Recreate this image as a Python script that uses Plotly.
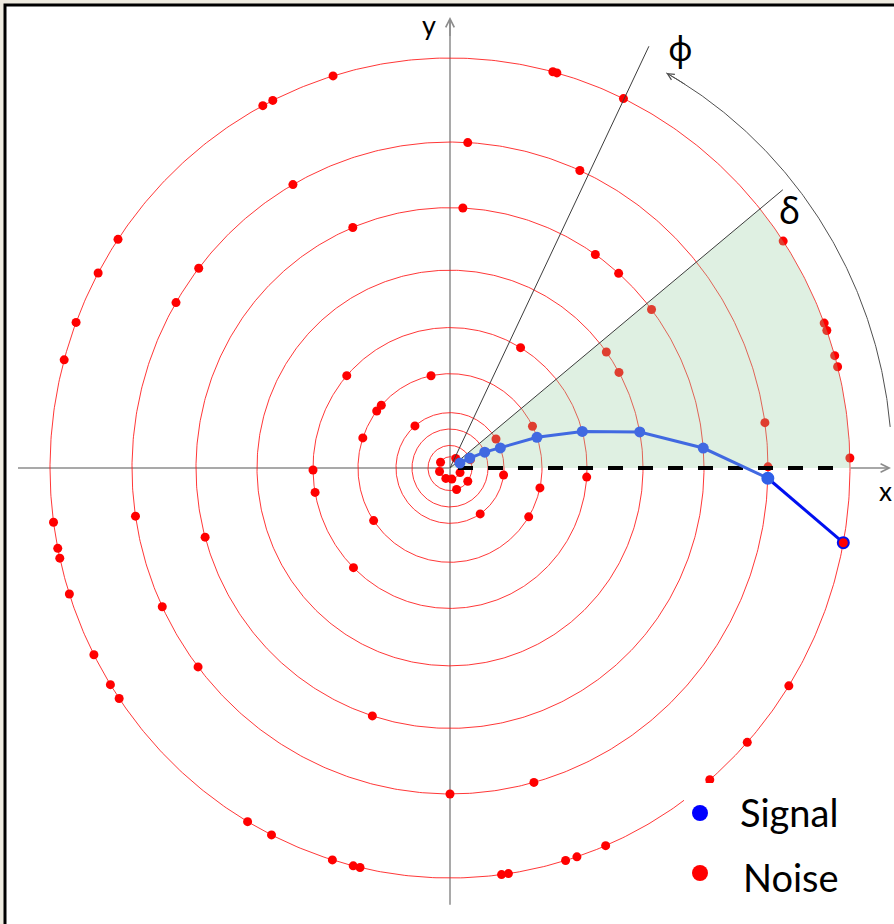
import numpy as np
import plotly.graph_objects as go

# ---------------- data ----------------
ring_radii = [11, 22, 38, 54, 92, 137, 193, 254, 318, 400]
# signal: one point per ring (inner -> outer), phase angle in degrees
signal_angles = [26, 26, 24, 21.3, 19, 15.1, 10.5, 4.4, -1.8, -10.5]

# noise points: phase angles (degrees) on each ring
noise_r11 = [58.4, 149.5, 198, 247.7, 279.7, 336]
noise_r22 = [21.8, 323.9, 287.4]
noise_r54 = [130.5, 31.6, 352.7, 304.0]
noise_r92 = [101.9, 138.3, 142.8, 161.4, 213.9, 328.8, 347.8, 26.3]
noise_r137 = [59.0, 138.9, 180.8, 190.0, 225.2, 356.3]
noise_r193 = [35.9, 28.9]
noise_r254 = [87.1, 112.5, 55.1, 48.4, 37.5, 195.4, 252.2]
noise_r318 = [86.8, 65.9, 119.6, 142.2, 149.5, 188.5, 205.2, 217.6, 270, 285.3, 8.0, 0.2]
noise_r400 = [107.0, 116.3, 117.9, 75.1, 74.5, 64.3, 146.1, 151.6, 159.2, 164.7,
              187.6, 191.3, 192.7, 197.9, 207.1, 211.9, 214.2, 239.6, 243.5, 252.9,
              256.0, 257.0, 277.4, 278.4, 286.8, 288.5, 292.9, 310.5, 318.0, 327.9,
              349.4, 1.4, 14.3, 15.9, 19.6, 20.7, 33.6]
noise_sets = [(11, noise_r11), (22, noise_r22), (54, noise_r54), (92, noise_r92),
              (137, noise_r137), (193, noise_r193), (254, noise_r254),
              (318, noise_r318), (400, noise_r400)]

phi_deg = 64.2
delta_deg = 39.2
phi_ray_len = 457
delta_ray_len = 429.5
arc_radius = 442
arc_from_deg, arc_to_deg = 5.2, 60.7

# ---------------- figure ----------------
W, H = 894, 924
OX, OY = 450, 468          # origin pixel
SY = 1.025                 # vertical stretch of the original drawing
xr = [-OX, W - OX]
yr = [-(H - OY) / SY, OY / SY]

def px(xp):
    return xp / W

def py(yp):
    return 1 - yp / H

def pol(r, deg):
    t = np.radians(deg)
    return r * np.cos(t), r * np.sin(t)

fig = go.Figure()

# axes (lines)
fig.add_trace(go.Scatter(x=[-432, 0], y=[0, 0], mode="lines",
                         line=dict(color="#8c8c8c", width=1.5), hoverinfo="skip"))
fig.add_trace(go.Scatter(x=[0, 0], y=[-426, 436], mode="lines",
                         line=dict(color="#8c8c8c", width=1.5), hoverinfo="skip"))

# rings
t = np.linspace(0, 360, 721)
cx, cy = [], []
for r in ring_radii:
    x, y = pol(r, t)
    cx += list(x) + [None]
    cy += list(y) + [None]
fig.add_trace(go.Scatter(x=cx, y=cy, mode="lines",
                         line=dict(color="rgba(255,20,20,0.85)", width=1),
                         hoverinfo="skip"))

# noise
nx, ny = [], []
for r, angs in noise_sets:
    x, y = pol(r, np.array(angs))
    nx += list(x)
    ny += list(y)
fig.add_trace(go.Scatter(x=nx, y=ny, mode="markers",
                         marker=dict(color="#ff0000", size=9), name="Noise"))

# shaded sector (0 .. delta)
sa = np.linspace(0, delta_deg, 100)
sx, sy = pol(ring_radii[-1], sa)
fig.add_trace(go.Scatter(x=[0] + list(sx) + [0], y=[0] + list(sy) + [0],
                         mode="lines", fill="toself",
                         fillcolor="rgba(150,205,160,0.30)",
                         line=dict(width=0), hoverinfo="skip"))

# rays phi, delta
fx, fy = pol(phi_ray_len, phi_deg)
dx_, dy_ = pol(delta_ray_len, delta_deg)
fig.add_trace(go.Scatter(x=[0, fx, None, 0, dx_], y=[0, fy, None, 0, dy_], mode="lines",
                         line=dict(color="#3c3c3c", width=1), hoverinfo="skip"))

# arc with arrow
aa = np.linspace(arc_from_deg, arc_to_deg, 200)
ax_, ay_ = pol(arc_radius, aa)
fig.add_trace(go.Scatter(x=ax_, y=ay_, mode="lines",
                         line=dict(color="#505050", width=1), hoverinfo="skip"))

# dashed reference line on the x axis
fig.add_trace(go.Scatter(x=[8, 393], y=[0, 0], mode="lines",
                         line=dict(color="black", width=4, dash="15px,15px"),
                         hoverinfo="skip"))

# signal
gx, gy = pol(np.array(ring_radii), np.array(signal_angles))
fig.add_trace(go.Scatter(x=gx[:9], y=gy[:9], mode="lines+markers",
                         line=dict(color="#4169e1", width=3),
                         marker=dict(color="#4169e1", size=11), name="Signal"))
fig.add_trace(go.Scatter(x=gx[8:], y=gy[8:], mode="lines+markers",
                         line=dict(color="#0010f0", width=3),
                         marker=dict(color=["#3060e8", "#ff0000"], size=11,
                                     line=dict(color=["#3060e8", "#0010f0"], width=2))))

annotations = []
# axis arrow heads
annotations.append(dict(x=441, y=0, ax=399, ay=0, xref="x", yref="y", axref="x", ayref="y",
                        text="", showarrow=True, arrowhead=5, arrowsize=1.2,
                        arrowwidth=1.4, arrowcolor="#8c8c8c", standoff=0))
annotations.append(dict(x=0, y=440, ax=0, ay=420, xref="x", yref="y", axref="x", ayref="y",
                        text="", showarrow=True, arrowhead=5, arrowsize=1.2,
                        arrowwidth=1.4, arrowcolor="#8c8c8c", standoff=0))
hx, hy = pol(arc_radius, arc_to_deg)
tx, ty = pol(arc_radius, arc_to_deg - 3)
annotations.append(dict(x=hx, y=hy, ax=tx, ay=ty, xref="x", yref="y", axref="x", ayref="y",
                        text="", showarrow=True, arrowhead=5, arrowsize=1.3,
                        arrowwidth=1, arrowcolor="#505050", standoff=0))

def label(xp, ypix, text, family, size, xanchor="center"):
    return dict(x=px(xp), y=py(ypix), xref="paper", yref="paper", text=text,
                xanchor=xanchor, yanchor="middle", showarrow=False,
                font=dict(family=family, size=size, color="black"))

annotations.append(label(429, 25, "y", "Lato", 27))
annotations.append(label(885, 491, "x", "Lato", 26))
annotations.append(label(680, 48, "φ", "Noto Sans", 34))
annotations.append(label(789, 211, "δ", "Noto Sans", 36))
# legend text
annotations.append(label(738, 812, "Signal", "Lato", 38, xanchor="left"))
annotations.append(label(741, 877, "Noise", "Lato", 38, xanchor="left"))

shapes = [
    # white drawing board with black frame
    dict(type="rect", xref="paper", yref="paper", x0=px(5), x1=1.02, y0=-0.02, y1=py(5),
         fillcolor="white", line=dict(color="black", width=3), layer="below"),
    # legend box
    dict(type="rect", xref="paper", yref="paper", x0=px(684), x1=1.02, y0=-0.02, y1=py(783),
         fillcolor="white", line=dict(width=0), layer="above"),
    dict(type="circle", xref="paper", yref="paper", x0=px(692), x1=px(708),
         y0=py(821), y1=py(805), fillcolor="#0000ff", line=dict(width=0), layer="above"),
    dict(type="circle", xref="paper", yref="paper", x0=px(692), x1=px(708),
         y0=py(881), y1=py(865), fillcolor="#ff0000", line=dict(width=0), layer="above"),
]

fig.update_layout(
    width=W, height=H, margin=dict(l=0, r=0, t=0, b=0),
    paper_bgcolor="#efebe0", plot_bgcolor="rgba(0,0,0,0)",
    showlegend=False,
    xaxis=dict(range=xr, visible=False, fixedrange=True),
    yaxis=dict(range=yr, visible=False, fixedrange=True),
    annotations=annotations, shapes=shapes,
)

fig.write_html("out.html", config={"displayModeBar": False},
               post_script="document.body.style.margin='0';document.body.style.overflow='hidden';")
